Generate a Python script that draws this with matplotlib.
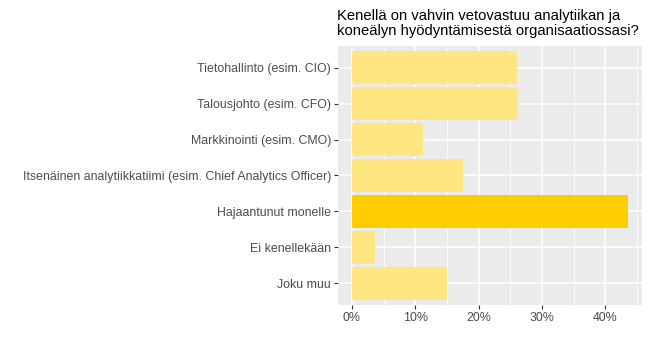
import matplotlib
import matplotlib.pyplot as plt
from matplotlib.ticker import FuncFormatter, MultipleLocator

matplotlib.use('Agg')
plt.rcParams['font.family'] = ['Liberation Sans', 'DejaVu Sans']

title = "Kenellä on vahvin vetovastuu analytiikan ja\nkoneälyn hyödyntämisestä organisaatiossasi?"
categories = [
    "Tietohallinto (esim. CIO)",
    "Talousjohto (esim. CFO)",
    "Markkinointi (esim. CMO)",
    "Itsenäinen analytiikkatiimi (esim. Chief Analytics Officer)",
    "Hajaantunut monelle",
    "Ei kenellekään",
    "Joku muu",
]
shares = [26.1, 26.2, 11.2, 17.5, 43.6, 3.6, 15.0]
highlight = "Hajaantunut monelle"

fig = plt.figure(figsize=(6.5, 3.5), dpi=100)
ax = fig.add_axes([0.52, 0.1286, 0.468, 0.74])

ypos = list(range(len(categories)))[::-1]
colors = ['#FFCC00' if c == highlight else '#FFE680' for c in categories]
ax.barh(ypos, shares, height=0.9, color=colors, zorder=3)

ax.set_facecolor('#EBEBEB')
for s in ax.spines.values():
    s.set_visible(False)
ax.set_xlim(-2.18, 45.8)
ax.set_ylim(-0.6, len(categories) - 0.4)
ax.xaxis.set_major_locator(MultipleLocator(10))
ax.xaxis.set_minor_locator(MultipleLocator(5))
ax.xaxis.set_major_formatter(FuncFormatter(lambda v, p: f"{v:.0f}%"))
ax.set_yticks(ypos)
ax.set_yticklabels(categories)
ax.grid(True, which='major', color='white', linewidth=1.1, zorder=0)
ax.grid(True, which='minor', axis='x', color='white', linewidth=0.55, zorder=0)
ax.tick_params(axis='both', which='major', length=3, width=0.8, color='#333333',
               labelcolor='#4D4D4D', labelsize=8.9, pad=2)
ax.tick_params(axis='x', which='minor', length=0)

fig.text(0.518, 0.975, title, ha='left', va='top', fontsize=10.6, color='black',
         linespacing=1.15)

fig.savefig('out.png', dpi=100)
